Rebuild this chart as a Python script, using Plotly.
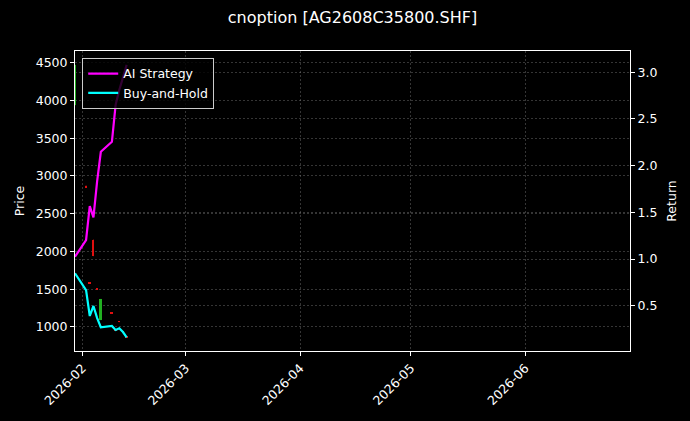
import plotly.graph_objects as go

# trading days shown in the chart
dates = [
    "2026-01-30", "2026-02-02", "2026-02-03", "2026-02-04", "2026-02-05",
    "2026-02-06", "2026-02-09", "2026-02-10", "2026-02-11", "2026-02-12",
    "2026-02-13",
]

# option price candles (left axis)
open_px = [3940, 2870, 1590, 2150, 1510, 1095, 1195, 968, 1075, 938, 872]
high_px = [4474, 2875, 1595, 2158, 1515, 1372, 1198, 970, 1078, 940, 875]
low_px = [3935, 2845, 1572, 1938, 1492, 1090, 1180, 958, 1063, 930, 863]
close_px = [4470, 2850, 1576, 1942, 1495, 1370, 1183, 960, 1066, 932, 866]

# cumulative returns (right axis)
ai_return = [1.025, 1.203, 1.567, 1.446, 1.835, 2.149, 2.256, 2.649, 2.81, 2.95, 3.08]
bh_return = [0.847, 0.668, 0.39, 0.497, 0.368, 0.269, 0.283, 0.24, 0.258, 0.218, 0.162]

FONT = "DejaVu Sans"
GRID = "rgba(140,140,140,0.38)"
UP = "#22b022"
DOWN = "#e01010"
DAY_MS = 24 * 3600 * 1000

fig = go.Figure()

# candle bodies as thin bars, wicks as thin lines
colors = [UP if c >= o else DOWN for o, c in zip(open_px, close_px)]
fig.add_trace(
    go.Bar(
        x=dates,
        y=[abs(c - o) for o, c in zip(open_px, close_px)],
        base=[min(o, c) for o, c in zip(open_px, close_px)],
        width=0.5 * DAY_MS,
        marker=dict(color=colors, line=dict(width=0)),
        showlegend=False,
        yaxis="y",
    )
)
for col in (UP, DOWN):
    wx, wy = [], []
    for d, h, l, c in zip(dates, high_px, low_px, colors):
        if c == col:
            wx += [d, d, None]
            wy += [l, h, None]
    fig.add_trace(
        go.Scatter(
            x=wx, y=wy, mode="lines", line=dict(color=col, width=0.8),
            showlegend=False, yaxis="y",
        )
    )

fig.add_trace(
    go.Scatter(
        x=dates,
        y=ai_return,
        mode="lines",
        name="AI Strategy",
        line=dict(color="#ff00ff", width=2.2),
        yaxis="y2",
    )
)
fig.add_trace(
    go.Scatter(
        x=dates,
        y=bh_return,
        mode="lines",
        name="Buy-and-Hold",
        line=dict(color="#00ffff", width=2.2),
        yaxis="y2",
    )
)

axis_common = dict(
    showline=True,
    linecolor="white",
    linewidth=1,
    ticks="outside",
    ticklen=4,
    tickcolor="white",
    tickfont=dict(family=FONT, size=12.5, color="white"),
    showgrid=True,
    gridcolor=GRID,
    griddash="2px,2px",
    gridwidth=0.6,
    zeroline=False,
)

fig.update_layout(
    width=690,
    height=421,
    paper_bgcolor="black",
    plot_bgcolor="black",
    margin=dict(l=75, r=60, t=51, b=70),
    font=dict(family=FONT, color="white", size=12.5),
    bargap=0,
    title=dict(
        text="cnoption [AG2608C35800.SHF]",
        x=0.5,
        xref="paper",
        y=1 - 17 / 421,
        yref="container",
        yanchor="middle",
        font=dict(family=FONT, size=16, color="white"),
    ),
    xaxis=dict(
        **axis_common,
        mirror=True,
        type="date",
        range=["2026-01-30", "2026-06-29 09:00"],
        dtick="M1",
        tick0="2026-02-01",
        tickformat="%Y-%m",
        tickangle=-45,
    ),
    yaxis=dict(
        **axis_common,
        range=[682, 4655],
        dtick=500,
        tick0=0,
        title=dict(text="Price", font=dict(family=FONT, size=12.5, color="white"), standoff=8),
    ),
    yaxis2=dict(
        **axis_common,
        overlaying="y",
        side="right",
        range=[0.015, 3.228],
        dtick=0.5,
        tick0=0,
        tickformat=".1f",
        title=dict(text="Return", font=dict(family=FONT, size=12.5, color="white"), standoff=10),
    ),
    legend=dict(
        x=0.013,
        y=0.977,
        xanchor="left",
        yanchor="top",
        bgcolor="rgba(0,0,0,0.8)",
        bordercolor="#cccccc",
        borderwidth=1,
        font=dict(family=FONT, size=12.5, color="white"),
        tracegroupgap=0,
    ),
)

fig.write_html(
    "out.html",
    config={"displayModeBar": False},
    post_script="document.body.style.margin='0';document.body.style.background='black';",
)
